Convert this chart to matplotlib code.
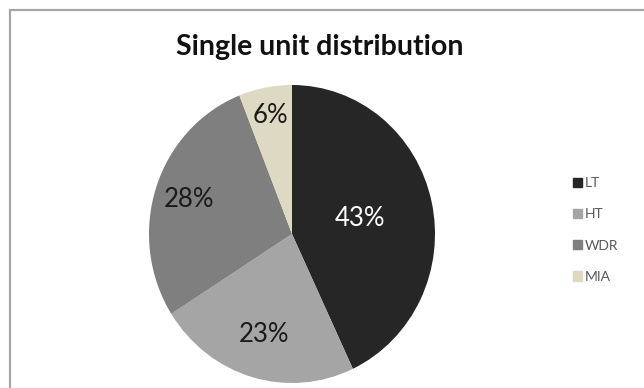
import matplotlib.pyplot as plt
import matplotlib.patches as patches

labels = ['LT', 'HT', 'WDR', 'MIA']
shares = [43, 23, 28, 6]
colors = ['#262626', '#a5a5a5', '#7f7f7f', '#ddd9c3']
label_dist = [0.49, 0.70, 0.76, 0.81]
label_color = ['white', '#1a1a1a', '#1a1a1a', '#1a1a1a']

W, H = 644, 388
fig = plt.figure(figsize=(W / 100, H / 100), dpi=100)
fig.patch.set_facecolor('white')

# chart area border (runs off the right and bottom edges)
fig.patches.append(patches.Rectangle((10 / W, -0.1), 1.2, 1 - 10 / H + 0.1,
                                     transform=fig.transFigure, fill=False,
                                     ec='#a6a6a6', lw=1.6))

ax = fig.add_axes([149 / W, 5 / H, 286 / W, 298 / H])
wedges, texts, autotexts = ax.pie(shares, colors=colors, startangle=90,
                                  counterclock=False, autopct='%d%%',
                                  pctdistance=0.5,
                                  wedgeprops=dict(linewidth=0))
ax.set_aspect('auto')
ax.set_xlim(-1, 1)
ax.set_ylim(-1, 1)

for t, d, c in zip(autotexts, label_dist, label_color):
    x, y = t.get_position()
    t.set_position((x / 0.5 * d, y / 0.5 * d))
    t.set_color(c)
    t.set_fontsize(18.5)
    t.set_family('Lato')

fig.text(320 / W, 1 - 47 / H, 'Single unit distribution', ha='center',
         va='center', fontsize=20.5, fontweight='bold', family='Lato',
         color='#111111')

handles = [patches.Patch(color=c, label=l) for c, l in zip(colors, labels)]
fig.legend(handles=handles, loc='center left',
           bbox_to_anchor=(560 / W, 1 - 230 / H), frameon=False,
           handlelength=0.65, handleheight=0.65, handletextpad=0.2,
           labelspacing=1.38, prop=dict(family='Lato', size=10),
           labelcolor='#595959')

fig.savefig('out.png', dpi=100)
